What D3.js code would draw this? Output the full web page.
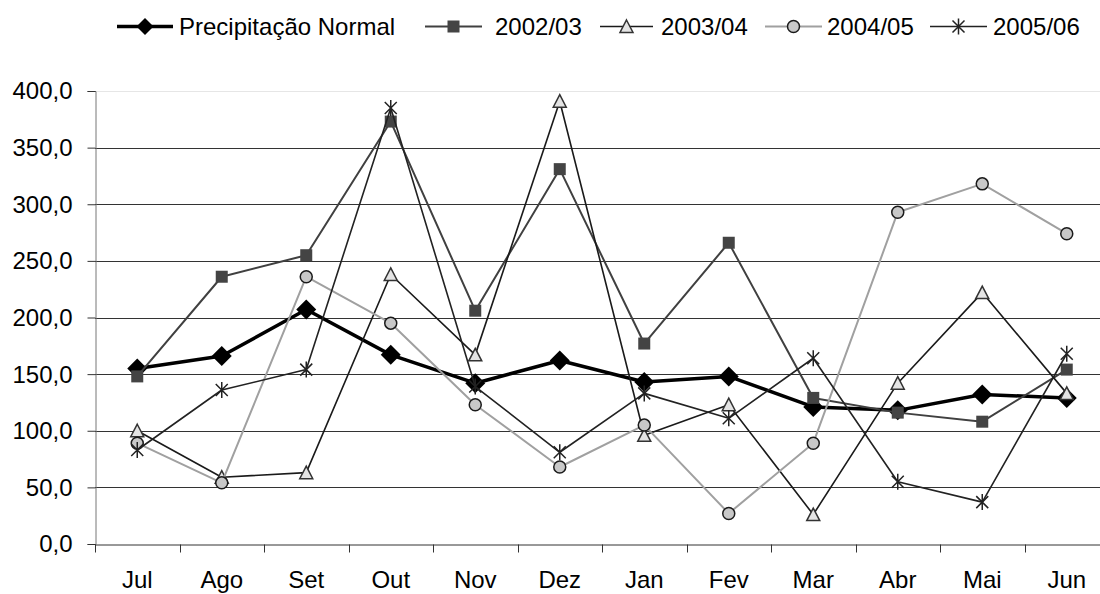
<!DOCTYPE html>
<html>
<head>
<meta charset="utf-8">
<script src="https://cdnjs.cloudflare.com/ajax/libs/d3/7.8.5/d3.min.js"></script>
<style>
body { margin:0; background:#fff; }
svg { font-family: "Liberation Sans", Arial, sans-serif; }
</style>
</head>
<body>
<svg id="chart"></svg>
<script>
var months = ["Jul","Ago","Set","Out","Nov","Dez","Jan","Fev","Mar","Abr","Mai","Jun"];
var yTicks = [0,50,100,150,200,250,300,350,400];

var normal = [155,166,207,167,142,162,143,148,121,118,132,129];
var y2002 = [148,236,255,373,206,331,177,266,129,116,108,154];
var y2003 = [100,59,63,238,167,391,96,123,26,142,222,133];
var y2004 = [89,54,236,195,123,68,105,27,89,293,318,274];
var y2005 = [83,136,154,385,139,81,133,111,164,55,37,168];

var series = [
  {name:"Precipitação Normal", values:normal, line:"#000", width:3.5, marker:"diamond"},
  {name:"2002/03", values:y2002, line:"#404040", width:2, marker:"square"},
  {name:"2003/04", values:y2003, line:"#1a1a1a", width:1.6, marker:"triangle"},
  {name:"2004/05", values:y2004, line:"#a0a0a0", width:2, marker:"circle"},
  {name:"2005/06", values:y2005, line:"#222", width:1.6, marker:"star"}
];

var screen = {width:1100, height:594};
var margins = {top:91, bottom:50, left:95, right:-9};
var fontSize = 24;

var svg = d3.select("#chart").attr("width", screen.width).attr("height", screen.height);

var xScale = d3.scaleBand().domain(months).range([margins.left, screen.width - margins.right]);
var yScale = d3.scaleLinear().domain([0,400]).range([screen.height - margins.bottom, margins.top]);
var fmt = function(v){ return d3.format(".1f")(v).replace(".", ","); };

//grid lines
svg.append("g").selectAll("line").data(yTicks.slice(1)).enter().append("line")
  .attr("x1", margins.left).attr("x2", screen.width + 20)
  .attr("y1", function(d){return Math.round(yScale(d)) + 0.5;})
  .attr("y2", function(d){return Math.round(yScale(d)) + 0.5;})
  .style("stroke", function(d){return d == 400 ? "#e6e6e6" : "#333";})
  .style("stroke-width", 1);

//y axis
var yAxis = d3.axisLeft(yScale).tickValues(yTicks).tickSize(8).tickFormat(fmt);
var yG = svg.append("g").attr("transform", "translate(" + (margins.left + 0.5) + ",0)").call(yAxis);
yG.select(".domain").attr("stroke", "#777");
yG.selectAll(".tick line").attr("stroke", "#333");
yG.selectAll("text").attr("font-size", fontSize).attr("fill", "#000").attr("x", -23).attr("dy", "0.33em");

//x axis
var xAxis = d3.axisBottom(xScale).tickSize(0);
var xG = svg.append("g").attr("transform", "translate(0," + (Math.round(yScale(0)) + 0.5) + ")").call(xAxis);
xG.select(".domain").attr("stroke", "#333");
xG.selectAll("text").attr("font-size", fontSize).attr("fill", "#000").attr("y", 43).attr("dy", 0);
xG.selectAll(".sep").data(months).enter().append("line")
  .attr("x1", function(d){return Math.round(xScale(d)) + 0.5;})
  .attr("x2", function(d){return Math.round(xScale(d)) + 0.5;})
  .attr("y1", 0).attr("y2", 8).attr("stroke", "#333");

var cx = function(d,i){ return xScale(months[i]) + xScale.bandwidth()/2; };

var drawMarker = function(g, type){
  if (type == "diamond") {
    g.append("path").attr("d", "M0,-10L10,0L0,10L-10,0Z").attr("fill", "#000");
  } else if (type == "square") {
    g.append("rect").attr("x",-6).attr("y",-6).attr("width",12).attr("height",12).attr("fill","#444");
  } else if (type == "triangle") {
    g.append("path").attr("d", "M0,-6.5L6.5,6L-6.5,6Z").attr("fill", "#e4e4e4").attr("stroke", "#333").attr("stroke-width", 1.5);
  } else if (type == "circle") {
    g.append("circle").attr("r", 6).attr("fill", "#c8c8c8").attr("stroke", "#1a1a1a").attr("stroke-width", 1.5);
  } else if (type == "star") {
    g.append("path").attr("d", "M-6,-6L6,6M-6,6L6,-6M0,-8L0,8").attr("stroke", "#222").attr("stroke-width", 1.5).attr("fill", "none");
  }
};

var line = d3.line().x(cx).y(function(d){return yScale(d);});

series.forEach(function(s){
  var g = svg.append("g").classed("series", true);
  g.append("path").datum(s.values).attr("d", line)
    .attr("fill", "none").attr("stroke", s.line).attr("stroke-width", s.width).attr("stroke-linejoin", "round");
  g.selectAll("g").data(s.values).enter().append("g")
    .attr("transform", function(d,i){ return "translate(" + cx(d,i) + "," + yScale(d) + ")"; })
    .each(function(){ drawMarker(d3.select(this), s.marker); });
});

//legend
var legendPos = [{x1:117, x2:173, tx:179}, {x1:425, x2:482, tx:495}, {x1:600, x2:653, tx:661}, {x1:765, x2:822, tx:827}, {x1:930, x2:987, tx:993}];
var legend = svg.append("g").classed("legend", true);
series.forEach(function(s, i){
  var p = legendPos[i];
  var lg = legend.append("g");
  lg.append("line").attr("x1", p.x1).attr("x2", p.x2).attr("y1", 26.5).attr("y2", 26.5)
    .attr("stroke", s.line).attr("stroke-width", s.width);
  var mx = (p.x1 + p.x2)/2;
  var mg = lg.append("g").attr("transform", "translate(" + mx + ",26.5)");
  drawMarker(mg, s.marker);
  if (s.marker == "diamond") mg.attr("transform", "translate(" + mx + ",26.5) scale(0.85)");
  lg.append("text").attr("x", p.tx).attr("y", 27).attr("dy", "0.35em").attr("font-size", fontSize).text(s.name);
});
</script>
</body>
</html>
